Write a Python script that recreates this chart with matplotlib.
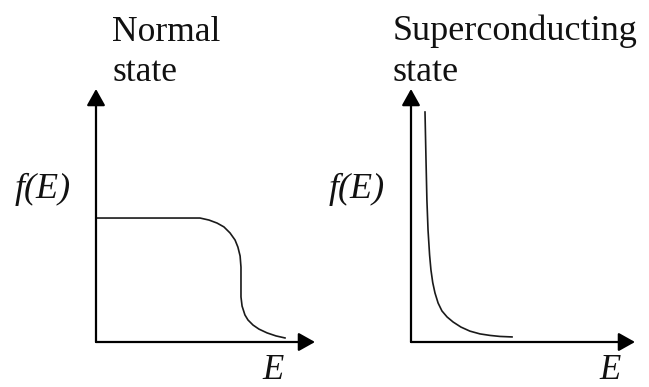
import matplotlib
matplotlib.use("Agg")
import matplotlib.pyplot as plt

W, H = 649, 387

# Normal state: Fermi function (E and f in axis units)
normal_E = [0.0, 0.475, 0.516, 0.553, 0.584, 0.612, 0.635, 0.648, 0.658, 0.662,
            0.662, 0.662, 0.667, 0.680, 0.694, 0.717, 0.744, 0.781, 0.822, 0.863]
normal_f = [0.490, 0.490, 0.482, 0.470, 0.455, 0.431, 0.403, 0.375, 0.340, 0.296,
            0.237, 0.178, 0.142, 0.107, 0.087, 0.067, 0.051, 0.036, 0.024, 0.016]

# Superconducting state
super_E = [0.0625, 0.067, 0.071, 0.076, 0.083, 0.089, 0.097, 0.107, 0.121, 0.138,
           0.161, 0.188, 0.223, 0.263, 0.308, 0.353, 0.397, 0.451]
super_f = [0.909, 0.719, 0.561, 0.443, 0.344, 0.285, 0.235, 0.194, 0.154, 0.123,
           0.099, 0.079, 0.059, 0.043, 0.032, 0.026, 0.022, 0.020]

titles = [["Normal", "state"], ["Superconducting", "state"]]

plt.rcParams['font.family'] = ['Liberation Serif', 'DejaVu Serif']

fig = plt.figure(figsize=(W / 100, H / 100), dpi=100)
fig.patch.set_facecolor("white")


def make_axes(x0, xend, y0, ytop):
    # origin / ends given in pixels from the top-left corner
    ax = fig.add_axes([x0 / W, 1 - y0 / H, (xend - x0) / W, (y0 - ytop) / H])
    ax.set_xlim(0, 1)
    ax.set_ylim(0, 1)
    ax.axis("off")
    arrow = dict(arrowstyle="-|>,head_length=0.5,head_width=0.28", lw=1.6,
                 color="black", shrinkA=0, shrinkB=0, mutation_scale=20)
    ax.annotate("", xy=(1, 0), xytext=(0, 0), xycoords="axes fraction",
                arrowprops=arrow)
    ax.annotate("", xy=(0, 1), xytext=(0, 0), xycoords="axes fraction",
                arrowprops=arrow)
    return ax


def ptext(x, y, s, size=26, **kw):
    fig.text(x / W, 1 - y / H, s, fontsize=size, color="#111111", **kw)


ax1 = make_axes(96, 315, 342, 89)
ax1.plot(normal_E, normal_f, color="#1a1a1a", lw=1.2, solid_joinstyle="round")

ax2 = make_axes(411, 635, 342, 89)
ax2.plot(super_E, super_f, color="#1a1a1a", lw=1.2, solid_joinstyle="round")

# titles
ptext(112, 41, titles[0][0], size=25.5, va="baseline")
ptext(112, 81, titles[0][1], size=25.5, va="baseline")
ptext(393, 40, titles[1][0], va="baseline")
ptext(393, 81, titles[1][1], va="baseline")

# axis labels
ptext(15, 198, "f(E)", style="italic", va="baseline")
ptext(329, 198, "f(E)", style="italic", va="baseline")
ptext(262, 379, "E", size=25, style="italic", va="baseline")
ptext(599, 379, "E", size=25, style="italic", va="baseline")

fig.savefig("out.png", dpi=100, facecolor="white")
